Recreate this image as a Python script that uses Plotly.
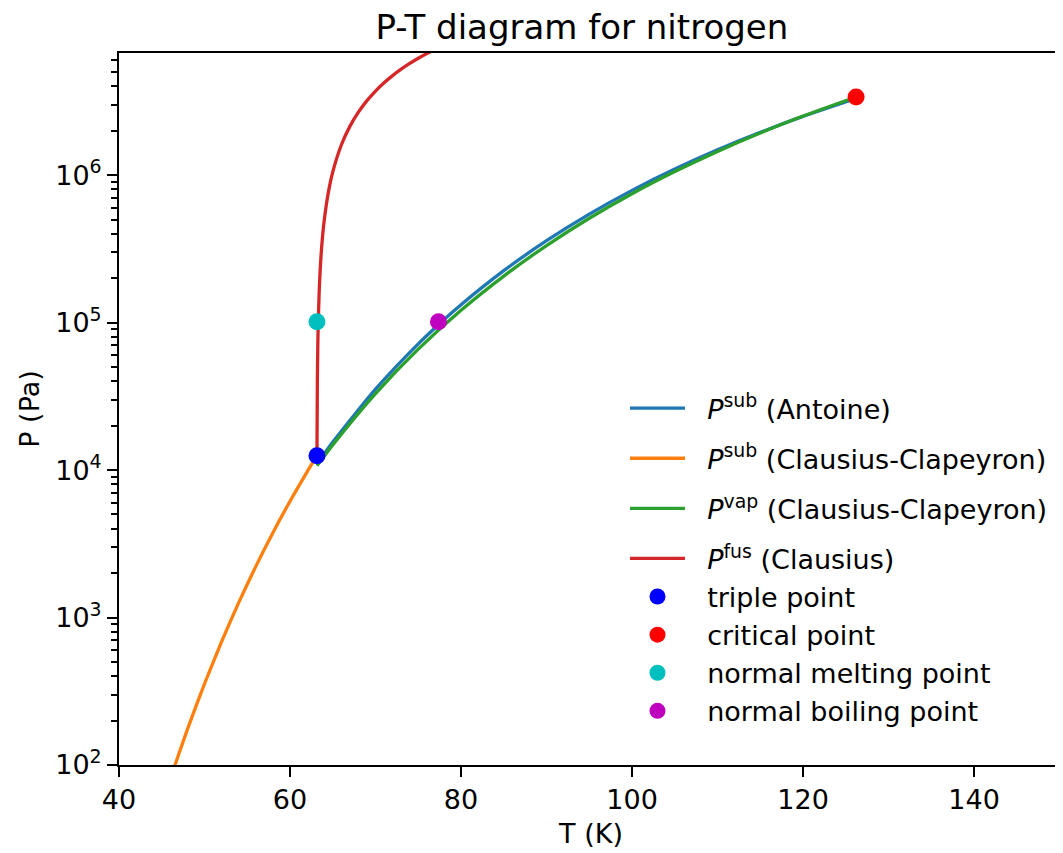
import plotly.graph_objects as go

# ---- data ----
T_sub_antoine = [63.15, 65, 70, 75, 77.36, 80, 85, 90, 95, 100, 105, 110, 115, 120, 126.2]
P_sub_antoine = [10980, 15480, 35440, 71850, 96850, 132240, 225090, 359570, 544500,
                 788860, 1100300, 1485900, 1952000, 2503000, 3311000]

T_sub_cc = [44, 46, 48, 50, 52, 54, 56, 58, 60, 62, 63.15]
P_sub_cc = [34.6, 80.4, 174.5, 355.7, 686.3, 1262, 2222, 3764, 6147, 9737, 12520]

T_vap_cc = [63.15, 65, 70, 75, 80, 85, 90, 95, 100, 105, 110, 115, 120, 126.2]
P_vap_cc = [10700, 14820, 33010, 66070, 121200, 206900, 333100, 510200, 748200,
            1057300, 1449600, 1932600, 2517000, 3390000]

T_fus = [63.15, 63.2, 63.25, 63.3, 63.4, 63.5, 63.7, 64.0, 64.5, 65.0, 66.0, 67.0,
         68.0, 69.0, 70.0, 71.0, 72.0, 73.0, 74.0, 75.0, 76.0, 77.0]
P_fus = [12520, 41000, 69480, 97900, 154800, 211500, 324700, 493800, 773900, 1052000,
         1602000, 2143000, 2676000, 3202000, 3720000, 4231000, 4734000, 5231000,
         5720000, 6204000, 6680000, 7150000]

point_names = ["triple point", "critical point", "normal melting point", "normal boiling point"]
point_T = [63.15, 126.2, 63.15, 77.36]
point_P = [12520, 3390000, 101325, 101325]
point_colors = ["#0000ff", "#ff0000", "#00bfbf", "#bf00bf"]

line_names = ["<i>P</i><sup>sub</sup> (Antoine)",
              "<i>P</i><sup>sub</sup> (Clausius-Clapeyron)",
              "<i>P</i><sup>vap</sup> (Clausius-Clapeyron)",
              "<i>P</i><sup>fus</sup> (Clausius)"]
line_colors = ["#1f77b4", "#ff7f0e", "#2ca02c", "#d62728"]
line_groups = ["g1", "g2", "g3", "g4"]

x_ticks = [40, 60, 80, 100, 120, 140]
y_ticks = [1e2, 1e3, 1e4, 1e5, 1e6]
y_tick_text = ["10<sup>2</sup>", "10<sup>3</sup>", "10<sup>4</sup>", "10<sup>5</sup>", "10<sup>6</sup>"]

FONT = "DejaVu Sans"
PAD = "&nbsp;&nbsp;"

fig = go.Figure()
series = [(T_sub_antoine, P_sub_antoine), (T_sub_cc, P_sub_cc), (T_vap_cc, P_vap_cc), (T_fus, P_fus)]
for (tx, py), name, col, grp in zip(series, line_names, line_colors, line_groups):
    fig.add_trace(go.Scatter(x=tx, y=py, mode="lines", name=PAD + name, legendgroup=grp,
                             line=dict(color=col, width=3.3, shape="spline", smoothing=0.6)))
for name, tx, py, col in zip(point_names, point_T, point_P, point_colors):
    fig.add_trace(go.Scatter(x=[tx], y=[py], mode="markers", name=PAD + name, legendgroup="g4",
                             marker=dict(color=col, size=17, line=dict(width=0))))

fig.update_layout(
    width=1055, height=845,
    margin=dict(l=111, r=0, t=45, b=88),
    paper_bgcolor="white", plot_bgcolor="white",
    font=dict(family=FONT, size=27, color="black"),
    title=dict(text="P-T diagram for nitrogen", x=0.544, xanchor="center",
               y=0.9775, yanchor="middle", font=dict(size=34, family=FONT, color="black")),
    showlegend=True,
    legend=dict(x=0.536, y=0.535, xanchor="left", yanchor="top",
                bgcolor="rgba(255,255,255,0)", borderwidth=0,
                font=dict(size=27, family=FONT, color="black"), itemwidth=55,
                tracegroupgap=12, traceorder="grouped"),
)
fig.update_xaxes(range=[40, 150.4], tickvals=x_ticks, ticks="outside", ticklen=10,
                 tickwidth=2, tickcolor="black", showline=True, linecolor="black",
                 linewidth=2, mirror=True, showgrid=False, zeroline=False,
                 title=dict(text="T (K)", font=dict(size=27), standoff=10),
                 tickfont=dict(size=27))
fig.update_yaxes(type="log", range=[2, 6.8285], tickvals=y_ticks, ticktext=y_tick_text,
                 ticks="outside", ticklen=10, tickwidth=2, tickcolor="black",
                 showline=True, linecolor="black", linewidth=2, mirror=False,
                 showgrid=False, zeroline=False,
                 minor=dict(ticks="outside", ticklen=6, tickwidth=1.5, tickcolor="black",
                            dtick="D1", showgrid=False),
                 title=dict(text="P (Pa)", font=dict(size=27), standoff=8),
                 tickfont=dict(size=27))

fig.write_html("out.html")
